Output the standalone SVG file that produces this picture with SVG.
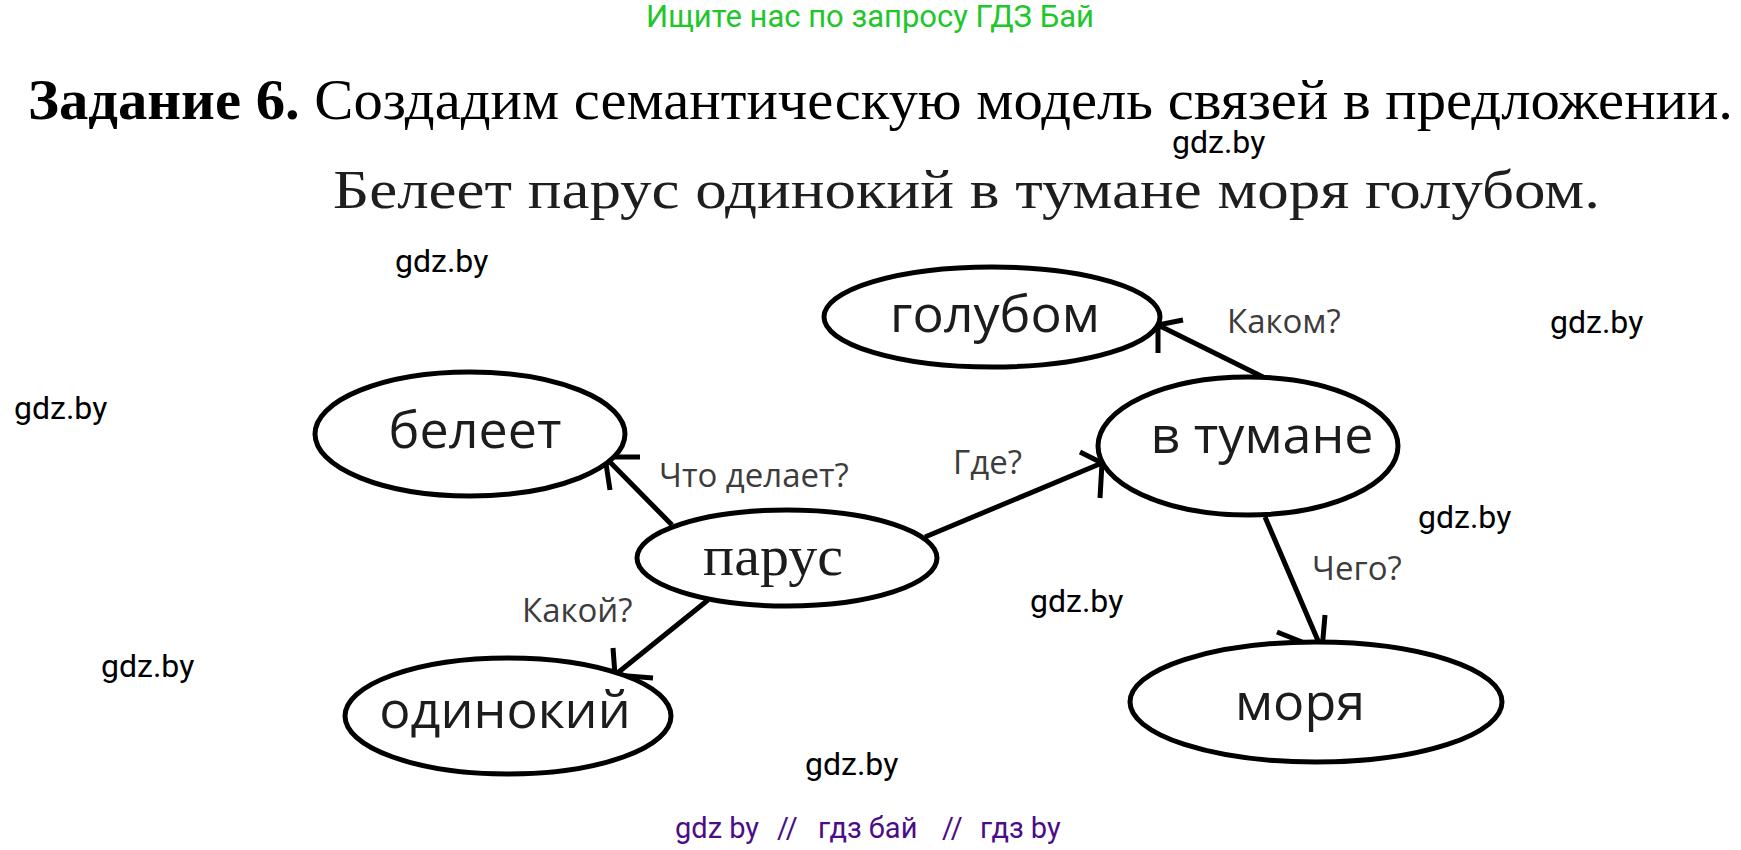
<svg xmlns="http://www.w3.org/2000/svg" width="1741" height="850" viewBox="0 0 1741 850">
<style>
.node ellipse{fill:#fff;stroke:#000;stroke-width:5}
.nt{font-family:"Open Sans","Noto Sans",sans-serif;font-size:52px;fill:#1c1c1c;text-anchor:middle}
.lbl{font-family:"Open Sans","Noto Sans",sans-serif;font-size:33px;fill:#3c3c3c}
.wm{font-family:Roboto,"Liberation Sans",sans-serif;font-size:32px;fill:#000}
.conn path{fill:none;stroke:#000;stroke-width:5;stroke-linecap:butt}
</style>
<rect width="1741" height="850" fill="#fff"/>
<text x="870" y="27" font-family="Roboto,'Liberation Sans',sans-serif" font-size="31" fill="#21c62b" text-anchor="middle">Ищите нас по запросу ГДЗ Бай</text>
<text x="28" y="119" font-family="'Liberation Serif',serif" font-size="57" fill="#000" textLength="1705" lengthAdjust="spacingAndGlyphs"><tspan font-weight="bold">Задание 6.</tspan> Создадим семантическую модель связей в предложении.</text>
<text x="333" y="208" font-family="'Liberation Serif',serif" font-size="55" fill="#1e1e1e" textLength="1267" lengthAdjust="spacingAndGlyphs">Белеет парус одинокий в тумане моря голубом.</text>
<g id="watermarks">
<text class="wm" x="1172" y="153">gdz.by</text>
<text class="wm" x="395" y="272">gdz.by</text>
<text class="wm" x="1550" y="333">gdz.by</text>
<text class="wm" x="14" y="419">gdz.by</text>
<text class="wm" x="1418" y="528">gdz.by</text>
<text class="wm" x="1030" y="612">gdz.by</text>
<text class="wm" x="101" y="677">gdz.by</text>
<text class="wm" x="805" y="775">gdz.by</text>
<text y="838" font-family="Roboto,'Liberation Sans',sans-serif" font-size="29" fill="#4b0c86"><tspan x="675">gdz by</tspan><tspan x="777">//</tspan><tspan x="818">гдз бай</tspan><tspan x="942">//</tspan><tspan x="980">гдз by</tspan></text>
</g>
<g id="connectors" class="conn">
<path d="M672,525 L605,457 M605,457 L640,457 M605,457 L610,490"/>
<path d="M708,600 L615,675 M615,675 L613,648 M615,675 L653,678"/>
<path d="M925,537 L1102,463 M1102,463 L1080,452 M1102,463 L1100,498"/>
<path d="M1263,377 L1158,325 M1158,325 L1183,320 M1158,325 L1158,353"/>
<path d="M1265,517 L1322,650 M1322,650 L1325,615 M1322,650 L1277,632"/>
</g>
<g id="labels">
<text class="lbl" x="659" y="487">Что делает?</text>
<text class="lbl" x="522" y="622">Какой?</text>
<text class="lbl" x="953" y="474">Где?</text>
<text class="lbl" x="1227" y="333">Каком?</text>
<text class="lbl" x="1312" y="580">Чего?</text>
</g>
<g id="node-beleet" class="node"><ellipse cx="470" cy="434" rx="155" ry="62"/><text class="nt" x="475" y="448">белеет</text></g>
<g id="node-parus" class="node"><ellipse cx="787" cy="558" rx="150" ry="48"/><text x="773" y="575" font-family="'Liberation Serif',serif" font-size="58" fill="#1c1c1c" text-anchor="middle">парус</text></g>
<g id="node-odinokiy" class="node"><ellipse cx="508" cy="716" rx="163" ry="58"/><text class="nt" x="505" y="728">одинокий</text></g>
<g id="node-golubom" class="node"><ellipse cx="992" cy="317" rx="168" ry="50"/><text class="nt" x="995" y="332">голубом</text></g>
<g id="node-vtumane" class="node"><ellipse cx="1248" cy="446" rx="150" ry="69"/><text class="nt" x="1262" y="453">в тумане</text></g>
<g id="node-morya" class="node"><ellipse cx="1316" cy="702" rx="186" ry="60"/><text class="nt" x="1300" y="720">моря</text></g>
</svg>
